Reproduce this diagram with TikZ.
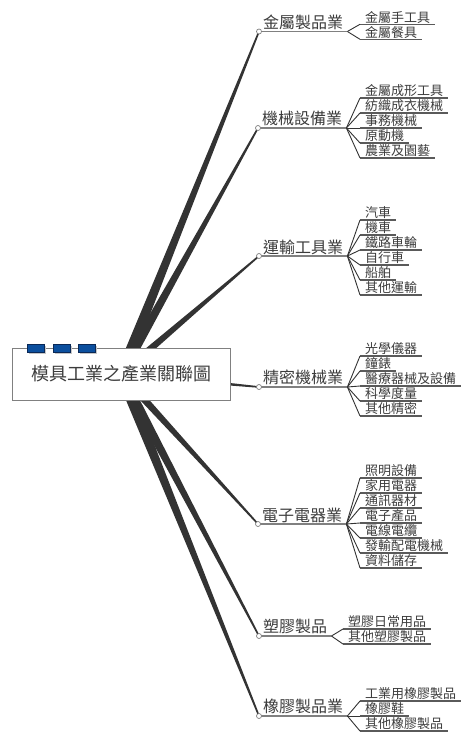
\documentclass[tikz,border=0pt]{standalone}
\usepackage{fontspec}
\setmainfont{Noto Sans CJK TC}
\usetikzlibrary{calc}
\definecolor{mmdark}{HTML}{333333}
\definecolor{mmtext}{HTML}{3C3C3C}
\definecolor{mmline}{HTML}{808080}
\definecolor{mmblue}{HTML}{0B4F9E}
\definecolor{mmnavy}{HTML}{0A2856}

% tapered spoke from #1 to #2, half width #3 at the root
\newcommand{\taper}[3]{%
  \fill[mmdark] ($(#1)!#3!90:(#2)$) -- ($(#2)!0.8pt!-90:(#1)$)
    -- ($(#2)!0.8pt!90:(#1)$) -- ($(#1)!#3!-90:(#2)$) -- cycle;}

\begin{document}
\begin{tikzpicture}[
    x=1pt, y=-1pt,
    mainitem/.style={anchor=south west, inner xsep=4pt, inner ysep=1.5pt, text=mmtext,
      font=\fontsize{16}{16}\selectfont},
    subitem/.style={anchor=south west, inner xsep=5pt, inner ysep=1pt, text=mmtext,
      font=\fontsize{13}{13}\selectfont},
    mainline/.style={draw=mmline, line width=1.5pt},
    subline/.style={draw=mmline!70!black, line width=1.1pt},
    fan/.style={draw=mmdark, line width=0.9pt},
    knob/.style={draw=mmline, fill=white, line width=0.7pt},
    tab/.style={draw=mmnavy, fill=mmblue, line width=0.6pt},
  ]
  \useasboundingbox (0,0) rectangle (471,744);
  \coordinate (c) at (121,374);

  % ----- main topics -----
  \node[mainitem] (m1) at (259,31.5) {金屬製品業};
  \node[mainitem] (m2) at (258,128) {機械設備業};
  \node[mainitem] (m3) at (259,256) {運輸工具業};
  \node[mainitem] (m4) at (259,387) {精密機械業};
  \node[mainitem] (m5) at (258,524) {電子電器業};
  \node[mainitem] (m6) at (259,636) {塑膠製品};
  \node[mainitem] (m7) at (259,716) {橡膠製品業};

  % ----- sub topics -----
  \foreach \txt [count=\i] in {金屬手工具,金屬餐具}{
    \node[subitem] (m1-\i) at (360,{24.3+15*(\i-1)}) {\txt};
    \draw[subline] (m1-\i.south west) -- (m1-\i.south east);
    \draw[fan] (m1.south east) -- (m1-\i.south west);
  }
  \foreach \txt [count=\i] in {金屬成形工具,紡織成衣機械,事務機械,原動機,農業及園藝}{
    \node[subitem] (m2-\i) at (360,{98+15*(\i-1)}) {\txt};
    \draw[subline] (m2-\i.south west) -- (m2-\i.south east);
    \draw[fan] (m2.south east) -- (m2-\i.south west);
  }
  \foreach \txt [count=\i] in {汽車,機車,鐵路車輪,自行車,船舶,其他運輸}{
    \node[subitem] (m3-\i) at (360,{220+15*(\i-1)}) {\txt};
    \draw[subline] (m3-\i.south west) -- (m3-\i.south east);
    \draw[fan] (m3.south east) -- (m3-\i.south west);
  }
  \foreach \txt [count=\i] in {光學儀器,鐘錶,醫療器械及設備,科學度量,其他精密}{
    \node[subitem] (m4-\i) at (360,{356+15*(\i-1)}) {\txt};
    \draw[subline] (m4-\i.south west) -- (m4-\i.south east);
    \draw[fan] (m4.south east) -- (m4-\i.south west);
  }
  \foreach \txt [count=\i] in {照明設備,家用電器,通訊器材,電子產品,電線電纜,發輸配電機械,資料儲存}{
    \node[subitem] (m5-\i) at (360,{478+15*(\i-1)}) {\txt};
    \draw[subline] (m5-\i.south west) -- (m5-\i.south east);
    \draw[fan] (m5.south east) -- (m5-\i.south west);
  }
  \foreach \txt [count=\i] in {塑膠日常用品,其他塑膠製品}{
    \node[subitem] (m6-\i) at (343,{629+15*(\i-1)}) {\txt};
    \draw[subline] (m6-\i.south west) -- (m6-\i.south east);
    \draw[fan] (m6.south east) -- (m6-\i.south west);
  }
  \foreach \txt [count=\i] in {工業用橡膠製品,橡膠鞋,其他橡膠製品}{
    \node[subitem] (m7-\i) at (360,{701+15*(\i-1)}) {\txt};
    \draw[subline] (m7-\i.south west) -- (m7-\i.south east);
    \draw[fan] (m7.south east) -- (m7-\i.south west);
  }

  % ----- tapered spokes from the centre -----
  \taper{c}{m1.south west}{5.5pt}
  \taper{c}{m2.south west}{5pt}
  \taper{c}{m3.south west}{4pt}
  \taper{c}{m4.south west}{3pt}
  \taper{c}{m5.south west}{4pt}
  \taper{c}{m6.south west}{5pt}
  \taper{c}{m7.south west}{5.5pt}

  % ----- underlines and knobs of main topics -----
  \foreach \i in {1,...,7}{
    \draw[mainline] (m\i.south west) -- (m\i.south east);
    \draw[knob] (m\i.south west) circle (2.5);
  }

  % ----- central topic -----
  \node[draw=mmline, fill=white, line width=0.8pt, minimum width=218pt, minimum height=52pt,
    text=mmtext, font=\fontsize{18}{18}\selectfont] (root) at (c) {模具工業之產業關聯圖};
  \foreach \x in {27,53,78}{
    \fill[black!22] (\x+2,346) rectangle ++(17,8);
    \filldraw[tab] (\x,344) rectangle ++(17,8);
  }

\end{tikzpicture}
\end{document}
